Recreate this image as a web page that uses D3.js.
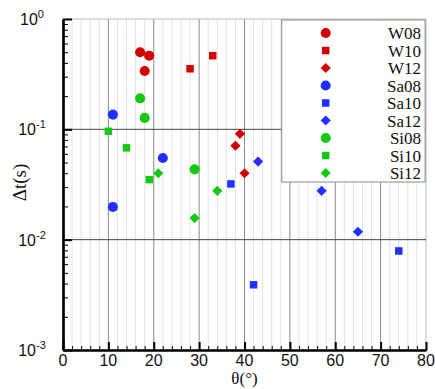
<!DOCTYPE html>
<html>
<head>
<meta charset="utf-8">
<script src="https://cdn.jsdelivr.net/npm/d3@7"></script>
<style>
  body { margin: 0; background: #fff; }
  .axis path { stroke: #000; stroke-width: 2.2; }
  .axis line { stroke: #000; }
  .tick-label { font-family: "Liberation Sans", Arial, sans-serif; font-size: 16px; fill: #111; }
  .title { font-family: "Liberation Serif", "Times New Roman", serif; font-size: 19px; fill: #111; }
  .legend text { font-family: "Liberation Serif", "Times New Roman", serif; font-size: 17px; fill: #111; }
</style>
</head>
<body>
<div id="chart"></div>
<script>
// series: angle theta (deg) and delta t (s)
var w08 = [{x: 17, y: 0.50}, {x: 19, y: 0.465}, {x: 18, y: 0.338}];
var w10 = [{x: 28, y: 0.354}, {x: 33, y: 0.465}];
var w12 = [{x: 39, y: 0.091}, {x: 38, y: 0.071}, {x: 40, y: 0.040}];
var sa08 = [{x: 11, y: 0.136}, {x: 22, y: 0.055}, {x: 11, y: 0.0198}];
var sa10 = [{x: 37, y: 0.032}, {x: 42, y: 0.0039}, {x: 74, y: 0.0079}];
var sa12 = [{x: 43, y: 0.051}, {x: 57, y: 0.0277}, {x: 65, y: 0.0118}];
var si08 = [{x: 17, y: 0.191}, {x: 18, y: 0.127}, {x: 29, y: 0.0434}];
var si10 = [{x: 10, y: 0.096}, {x: 14, y: 0.068}, {x: 19, y: 0.035}];
var si12 = [{x: 21, y: 0.040}, {x: 34, y: 0.0277}, {x: 29, y: 0.0157}];

var seriesNames = ["W08", "W10", "W12", "Sa08", "Sa10", "Sa12", "Si08", "Si10", "Si12"];
var seriesData = [w08, w10, w12, sa08, sa10, sa12, si08, si10, si12];
var seriesShape = ["circle", "square", "diamond", "circle", "square", "diamond", "circle", "square", "diamond"];
var seriesColor = ["red", "red", "red", "blue", "blue", "blue", "green", "green", "green"];

var xTicks = [0, 10, 20, 30, 40, 50, 60, 70, 80];
var yTicks = [1e-3, 1e-2, 1e-1, 1];
var yTickExp = ["-3", "-2", "-1", "0"];

var margin = {top: 19, right: 9, bottom: 39, left: 63},
    width = 435 - margin.left - margin.right,
    height = 389 - margin.top - margin.bottom;

var x = d3.scaleLinear().domain([0, 80]).range([0, width]);
var y = d3.scaleLog().domain([1e-3, 1]).range([height, 0]);

var color = d3.scaleOrdinal()
  .domain(["red", "blue", "green"])
  .range(["#d40000", "#2030ff", "#14c814"]);

// diamond = square turned 45 deg
var symbolType = {circle: d3.symbolCircle, square: d3.symbolSquare, diamond: d3.symbolSquare};
var symbolSize = {circle: 80, square: 56, diamond: 52};

var svg = d3.select("#chart").append("svg")
  .attr("width", 435)
  .attr("height", 389)
  .append("g")
  .attr("transform", "translate(" + margin.left + "," + margin.top + ")");

// minor values
var xMinor = d3.range(0, 81, 2).filter(function(d) { return d % 10 != 0; });
var yMinor = [];
[1e-3, 1e-2, 1e-1].forEach(function(dec) {
  for (var k = 2; k <= 9; k++) yMinor.push(dec * k);
});

// grid
svg.selectAll(".vminor").data(xMinor).enter().append("line")
  .attr("x1", function(d) { return x(d); }).attr("x2", function(d) { return x(d); })
  .attr("y1", 0).attr("y2", height)
  .attr("stroke", "#e2e2e2").attr("stroke-width", 1);

svg.selectAll(".vmajor").data(xTicks.slice(1)).enter().append("line")
  .attr("x1", function(d) { return x(d); }).attr("x2", function(d) { return x(d); })
  .attr("y1", 0).attr("y2", height)
  .attr("stroke", function(d) { return d == 80 ? "#bbb" : "#8a8a8a"; }).attr("stroke-width", 1);

svg.selectAll(".hmajor").data(yTicks.slice(1)).enter().append("line")
  .attr("x1", 0).attr("x2", width)
  .attr("y1", function(d) { return y(d); }).attr("y2", function(d) { return y(d); })
  .attr("stroke", function(d) { return d == 1 ? "#bbb" : "#444"; }).attr("stroke-width", 1);

// axes
svg.append("g")
  .attr("class", "axis")
  .attr("transform", "translate(0," + height + ")")
  .call(d3.axisBottom(x).tickValues(xMinor).tickSize(-4).tickSizeOuter(0).tickFormat(""));

svg.append("g")
  .attr("class", "axis")
  .attr("transform", "translate(0," + height + ")")
  .call(d3.axisBottom(x).tickValues(xTicks).tickSize(-8).tickSizeOuter(0).tickFormat(""))
  .selectAll(".tick line").attr("stroke-width", 2);

svg.append("g")
  .attr("class", "axis")
  .call(d3.axisLeft(y).tickValues(yMinor).tickSize(-5).tickSizeOuter(0).tickFormat(""));

svg.append("g")
  .attr("class", "axis")
  .call(d3.axisLeft(y).tickValues(yTicks).tickSize(-9).tickSizeOuter(0).tickFormat(""))
  .selectAll(".tick line").attr("stroke-width", 2);

// tick labels
svg.selectAll(".xlab").data(xTicks).enter().append("text")
  .attr("class", "tick-label")
  .attr("x", function(d) { return x(d); })
  .attr("y", height + 16)
  .attr("text-anchor", "middle")
  .text(function(d) { return d; });

var ylab = svg.selectAll(".ylab").data(yTicks).enter().append("text")
  .attr("class", "tick-label")
  .attr("x", -31)
  .attr("y", function(d) { return y(d) + 6; })
  .attr("text-anchor", "middle");
ylab.append("tspan").text("10");
ylab.append("tspan")
  .attr("dy", -7)
  .style("font-size", "11px")
  .text(function(d, i) { return yTickExp[i]; });

// axis titles
svg.append("text")
  .attr("class", "title")
  .attr("x", x(40))
  .attr("y", height + 34)
  .attr("text-anchor", "middle")
  .style("font-size", "17px")
  .text("θ(°)");

svg.append("text")
  .attr("class", "title")
  .attr("transform", "translate(" + (-37) + "," + (height / 2 - 2) + ") rotate(-90)")
  .attr("text-anchor", "middle")
  .text("Δt(s)");

// points
function symTransform(shape) {
  return shape == "diamond" ? " rotate(45)" : "";
}

seriesData.forEach(function(pts, i) {
  var shape = seriesShape[i];
  svg.selectAll(".pt" + i).data(pts).enter().append("path")
    .attr("d", d3.symbol().type(symbolType[shape]).size(symbolSize[shape]))
    .attr("transform", function(d) {
      return "translate(" + x(d.x) + "," + y(d.y) + ")" + symTransform(shape);
    })
    .attr("fill", color(seriesColor[i]));
});

// legend
var lg = svg.append("g").attr("class", "legend")
  .attr("transform", "translate(" + (x(48.2)) + "," + 1 + ")");

lg.append("rect")
  .attr("width", x(79.8) - x(48.2))
  .attr("height", 162)
  .attr("fill", "#fff")
  .attr("stroke", "#888")
  .attr("stroke-width", 1);

var row = lg.selectAll(".row").data(seriesNames).enter().append("g")
  .attr("transform", function(d, i) { return "translate(0," + (13 + i * 17.5) + ")"; });

row.append("path")
  .attr("d", function(d, i) { return d3.symbol().type(symbolType[seriesShape[i]]).size(symbolSize[seriesShape[i]])(); })
  .attr("transform", function(d, i) { return "translate(44,0)" + symTransform(seriesShape[i]); })
  .attr("fill", function(d, i) { return color(seriesColor[i]); });

row.append("text")
  .attr("x", x(79.8) - x(48.2) - 4)
  .attr("y", 6)
  .attr("text-anchor", "end")
  .text(function(d) { return d; });
</script>
</body>
</html>
